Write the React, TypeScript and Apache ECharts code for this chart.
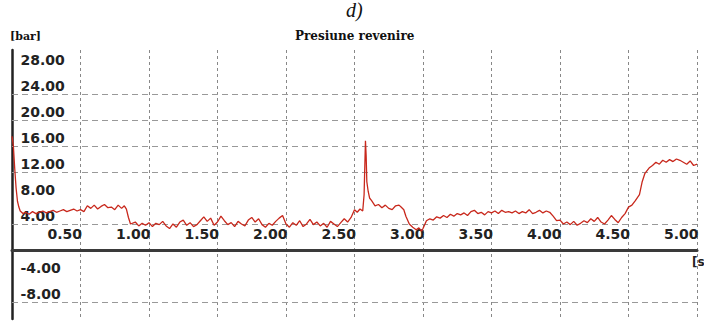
import React, { useEffect, useRef } from "react";
import * as echarts from "echarts";

// time [s]
const times: number[] = [
  0.0, 0.01, 0.02, 0.03, 0.04, 0.05, 0.06, 0.08, 0.1, 0.125, 0.15, 0.175, 0.2, 0.225, 0.25, 0.275, 0.3, 0.325, 0.35, 0.375,
  0.4, 0.425, 0.45, 0.475, 0.5, 0.525, 0.55, 0.575, 0.6, 0.625, 0.65, 0.675, 0.7, 0.725, 0.75, 0.775, 0.8, 0.82, 0.835, 0.85,
  0.865, 0.9, 0.925, 0.95, 0.975, 1.0, 1.025, 1.05, 1.075, 1.1, 1.125, 1.15, 1.175, 1.2, 1.225, 1.25, 1.275, 1.3, 1.325, 1.35,
  1.375, 1.4, 1.425, 1.45, 1.475, 1.5, 1.525, 1.55, 1.575, 1.6, 1.625, 1.65, 1.675, 1.7, 1.725, 1.75, 1.775, 1.8, 1.825, 1.85,
  1.875, 1.9, 1.925, 1.95, 1.975, 2.0, 2.025, 2.05, 2.075, 2.1, 2.125, 2.15, 2.175, 2.2, 2.225, 2.25, 2.275, 2.3, 2.325, 2.35,
  2.375, 2.4, 2.425, 2.45, 2.475, 2.5, 2.52, 2.54, 2.56, 2.57, 2.58, 2.585, 2.59, 2.6, 2.61, 2.625, 2.65, 2.675, 2.7, 2.725,
  2.75, 2.775, 2.8, 2.825, 2.84, 2.86, 2.875, 2.9, 2.925, 2.95, 2.97, 2.99, 3.0, 3.025, 3.05, 3.075, 3.1, 3.125, 3.15, 3.175,
  3.2, 3.225, 3.25, 3.275, 3.3, 3.325, 3.35, 3.375, 3.4, 3.425, 3.45, 3.475, 3.5, 3.525, 3.55, 3.575, 3.6, 3.625, 3.65, 3.675,
  3.7, 3.725, 3.75, 3.775, 3.8, 3.825, 3.85, 3.875, 3.9, 3.925, 3.95, 3.975, 4.0, 4.025, 4.05, 4.075, 4.1, 4.125, 4.15, 4.175,
  4.2, 4.225, 4.25, 4.275, 4.3, 4.325, 4.35, 4.375, 4.4, 4.425, 4.45, 4.475, 4.5, 4.525, 4.55, 4.58, 4.6, 4.62, 4.65, 4.675,
  4.7, 4.725, 4.75, 4.775, 4.8, 4.825, 4.85, 4.875, 4.9, 4.925, 4.95, 4.975, 5.0,
];

// pressure [bar]
const pressure: number[] = [
  17.5, 16.0, 12.5, 9.5, 7.5, 6.6, 6.0, 5.6, 5.8, 5.5, 5.9, 5.6, 5.8, 6.0, 5.7, 5.9, 6.1, 5.8, 6.0, 6.2,
  5.9, 6.1, 6.3, 6.0, 6.2, 5.9, 6.8, 6.4, 6.9, 6.3, 6.7, 7.0, 6.5, 6.6, 6.2, 6.9, 6.4, 6.8, 6.3, 5.0,
  4.0, 4.3, 3.7, 4.1, 3.8, 4.2, 3.6, 4.1, 3.9, 4.4, 3.7, 3.3, 4.0, 3.5, 4.3, 4.6, 3.8, 4.2, 3.6, 3.9,
  4.5, 5.1, 4.4, 4.9, 3.8, 4.3, 5.2, 4.5, 3.9, 4.2, 3.6, 4.4, 4.0, 3.7, 4.6, 5.0, 4.3, 4.8, 3.9, 3.5,
  4.1, 3.8, 4.4, 4.9, 5.3, 4.0, 3.5, 4.2, 3.8, 4.5, 3.6, 4.0, 4.7, 3.9, 4.3, 3.7, 4.1, 3.5, 4.4, 4.0,
  3.6, 4.2, 4.8, 4.3, 5.0, 6.2, 5.8, 6.3, 6.0, 8.5, 16.8, 14.5, 10.5, 9.0, 8.0, 7.6, 6.8, 7.0, 6.5, 6.9,
  6.4, 6.2, 6.8, 6.9, 6.6, 6.2, 5.2, 4.0, 3.5, 3.1, 3.4, 2.9, 3.3, 4.5, 4.8, 4.6, 5.1, 4.9, 5.3, 5.0,
  5.5, 5.2, 5.6, 5.4, 5.7, 5.3, 5.9, 6.1, 5.6, 5.8, 5.4, 5.9, 5.7, 6.0, 5.6, 6.1, 5.8, 5.9, 5.7, 6.0,
  5.6, 5.9, 5.7, 6.2, 5.6, 5.8, 6.1, 5.7, 6.0, 5.8, 5.2, 4.5, 4.6, 4.0, 4.3, 3.9, 4.4, 3.8, 4.1, 4.5,
  4.2, 4.8, 4.4, 5.0, 4.3, 4.0, 4.6, 5.3, 4.7, 4.2, 5.0, 5.6, 6.6, 6.9, 7.6, 8.5, 10.5, 11.8, 12.6, 13.0,
  13.5, 13.2, 13.8, 13.5, 13.9, 13.6, 14.0, 13.8, 13.5, 13.2, 13.7, 13.0, 13.2,
];

const yTickLabels: number[] = [28, 24, 20, 16, 12, 8, 4, -4, -8];
const yGridLines: number[] = [24, 20, 16, 12, 4, -8];
const xTickLabels: number[] = [0.5, 1.0, 1.5, 2.0, 2.5, 3.0, 3.5, 4.0, 4.5, 5.0];

const title = "Presiune revenire";
const panelLabel = "d)";
const yUnit = "[bar]";
const xUnit = "[s]";

const labelFont = { fontFamily: "DejaVu Sans", fontWeight: "bold" as const, fontSize: 14, color: "#222" };

export default function App() {
  const ref = useRef<HTMLDivElement>(null);
  useEffect(() => {
    if (!ref.current) return;
    const chart = echarts.init(ref.current, null, { renderer: "svg" });
    const data = times.map((t, i) => [t, pressure[i]]);
    chart.setOption({
      animation: false,
      backgroundColor: "#ffffff",
      grid: { left: 12, right: 7, top: 50, bottom: 13, containLabel: false },
      graphic: [
        {
          type: "text",
          left: 346,
          top: 0,
          style: { text: panelLabel, font: "italic 20px 'Liberation Serif'", fill: "#111" },
        },
        {
          type: "text",
          left: 295,
          top: 30,
          style: { text: title, font: "bold 12px 'DejaVu Serif'", fill: "#111" },
        },
        {
          type: "text",
          left: 10,
          top: 31,
          style: { text: yUnit, font: "bold 11px 'DejaVu Serif'", fill: "#111" },
        },
        {
          type: "text",
          left: 692,
          top: 256,
          style: { text: xUnit, font: "bold 12px 'DejaVu Sans'", fill: "#222" },
        },
      ],
      xAxis: {
        type: "value",
        min: 0,
        max: 5,
        interval: 0.5,
        axisLine: { show: true, onZero: true, lineStyle: { color: "#3a3a3a", width: 3 } },
        axisTick: { show: false },
        axisLabel: { show: false },
        splitLine: { show: true, lineStyle: { color: "#888", type: [3, 3], width: 1 } },
      },
      yAxis: {
        type: "value",
        min: -10.62,
        max: 30.77,
        axisLine: { show: true, onZero: false, lineStyle: { color: "#222", width: 2.5 } },
        axisTick: { show: false },
        axisLabel: { show: false },
        splitLine: { show: false },
      },
      series: [
        {
          type: "line",
          data: [],
          silent: true,
          markLine: {
            silent: true,
            symbol: "none",
            label: { show: false },
            lineStyle: { color: "#999", type: [6, 4], width: 1 },
            data: yGridLines.map((v) => ({ yAxis: v })),
          },
        },
        {
          type: "line",
          data: [],
          silent: true,
          markPoint: {
            silent: true,
            symbol: "circle",
            symbolSize: 1,
            itemStyle: { color: "rgba(0,0,0,0)" },
            label: {
              show: true,
              position: "right",
              distance: 0,
              offset: [8, -8],
              ...labelFont,
              formatter: (p: any) => Number(p.value).toFixed(2),
            },
            data: yTickLabels.map((v) => ({ coord: [0, v], value: v })),
          },
        },
        {
          type: "line",
          data: [],
          silent: true,
          markPoint: {
            silent: true,
            symbol: "circle",
            symbolSize: 1,
            itemStyle: { color: "rgba(0,0,0,0)" },
            label: {
              show: true,
              position: "left",
              distance: 0,
              offset: [2, -16],
              ...labelFont,
              formatter: (p: any) => Number(p.value).toFixed(2),
            },
            data: xTickLabels.map((v) => ({ coord: [v, 0], value: v })),
          },
        },
        {
          type: "line",
          data,
          showSymbol: false,
          symbol: "none",
          lineStyle: { color: "#c8281c", width: 1.3 },
          z: 5,
        },
      ],
    });
    return () => chart.dispose();
  }, []);
  return (
    <div
      ref={ref}
      style={{ position: "fixed", left: 0, top: 0, width: 704, height: 332 }}
    />
  );
}
